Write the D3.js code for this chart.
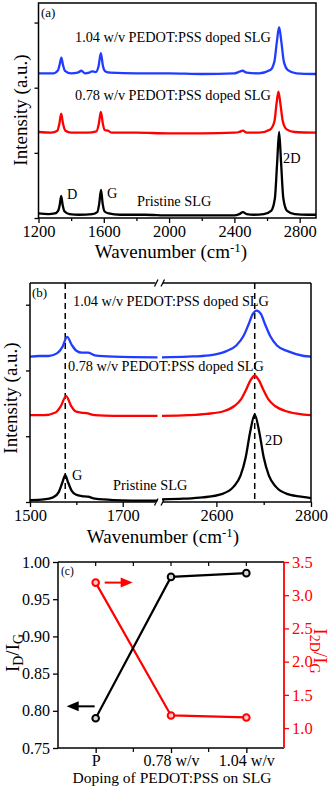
<!DOCTYPE html>
<html>
<head>
<meta charset="utf-8">
<script src="https://cdn.jsdelivr.net/npm/d3@7/dist/d3.min.js"></script>
<style>
  body { margin: 0; background: #fff; }
  svg { display: block; font-family: "Liberation Serif", "Times New Roman", serif; }
</style>
</head>
<body>
<div id="chart"></div>
<script>
// spectra read as [wavenumber, intensity (a.u.)], offsets included
var pristineA = [
  [1200, 0.07], [1260, 0.06], [1300, 0.07], [1320, 0.11], [1330, 0.2], [1339, 0.34],
  [1348, 0.2], [1360, 0.1], [1390, 0.06], [1450, 0.05], [1530, 0.06], [1560, 0.09],
  [1572, 0.22], [1583, 0.43], [1593, 0.22], [1605, 0.1], [1630, 0.07], [1700, 0.05],
  [1850, 0.05], [2000, 0.04], [2200, 0.04], [2400, 0.04], [2430, 0.06], [2452, 0.09],
  [2475, 0.06], [2520, 0.05], [2580, 0.06], [2625, 0.11], [2648, 0.3], [2662, 0.85],
  [2674, 1.32], [2686, 0.85], [2700, 0.3], [2723, 0.11], [2770, 0.06], [2850, 0.05],
  [2900, 0.05]
];
var doped078A = [
  [1200, 1.32], [1280, 1.31], [1315, 1.34], [1328, 1.45], [1339, 1.6], [1350, 1.45],
  [1365, 1.34], [1400, 1.31], [1500, 1.31], [1555, 1.33], [1570, 1.45], [1582, 1.63],
  [1594, 1.45], [1605, 1.35], [1625, 1.34], [1650, 1.31], [1800, 1.31], [2000, 1.3],
  [2200, 1.3], [2400, 1.31], [2430, 1.32], [2452, 1.34], [2475, 1.31], [2550, 1.31],
  [2620, 1.36], [2645, 1.48], [2658, 1.75], [2670, 1.94], [2682, 1.75], [2697, 1.48],
  [2720, 1.36], [2770, 1.32], [2900, 1.31]
];
var doped104A = [
  [1200, 2.22], [1290, 2.22], [1320, 2.27], [1330, 2.36], [1340, 2.46], [1350, 2.35],
  [1362, 2.26], [1400, 2.22], [1440, 2.23], [1462, 2.26], [1485, 2.22], [1510, 2.23],
  [1527, 2.25], [1550, 2.24], [1568, 2.33], [1582, 2.53], [1595, 2.33], [1610, 2.25],
  [1640, 2.23], [1800, 2.22], [2000, 2.22], [2200, 2.21], [2400, 2.22], [2425, 2.24],
  [2450, 2.26], [2475, 2.23], [2550, 2.22], [2620, 2.27], [2645, 2.4], [2660, 2.7],
  [2674, 2.93], [2688, 2.7], [2703, 2.4], [2728, 2.27], [2780, 2.22], [2900, 2.21]
];

// zoomed spectra, G region and 2D region
var pristineG = [
  [1500, 0.03], [1530, 0.04], [1550, 0.07], [1562, 0.15], [1570, 0.3], [1576, 0.41],
  [1582, 0.3], [1590, 0.17], [1600, 0.11], [1612, 0.09], [1625, 0.08], [1640, 0.05],
  [1680, 0.03], [1775, 0.02]
];
var pristine2D = [
  [2485, 0.04], [2530, 0.05], [2571, 0.07], [2611, 0.12], [2636, 0.23], [2651, 0.4],
  [2662, 0.68], [2671, 1.05], [2681, 1.33], [2691, 1.05], [2700, 0.68], [2711, 0.4],
  [2726, 0.23], [2751, 0.12], [2791, 0.07], [2800, 0.06]
];
var doped078G = [
  [1500, 1.32], [1530, 1.32], [1555, 1.36], [1566, 1.45], [1578, 1.61], [1588, 1.47],
  [1598, 1.38], [1610, 1.36], [1622, 1.35], [1640, 1.32], [1680, 1.31], [1775, 1.31]
];
var doped0782D = [
  [2485, 1.31], [2540, 1.32], [2580, 1.34], [2615, 1.38], [2638, 1.46], [2652, 1.56],
  [2663, 1.71], [2672, 1.85], [2681, 1.92], [2690, 1.85], [2699, 1.71], [2710, 1.56],
  [2724, 1.46], [2748, 1.38], [2785, 1.33], [2800, 1.32]
];
var doped104G = [
  [1500, 2.21], [1520, 2.22], [1540, 2.22], [1558, 2.26], [1570, 2.36], [1580, 2.51],
  [1590, 2.39], [1600, 2.3], [1612, 2.27], [1625, 2.27], [1640, 2.23], [1680, 2.21],
  [1775, 2.2]
];
var doped1042D = [
  [2485, 2.2], [2540, 2.21], [2585, 2.23], [2620, 2.29], [2642, 2.38], [2657, 2.52],
  [2668, 2.7], [2677, 2.86], [2685, 2.91], [2694, 2.86], [2703, 2.7], [2714, 2.52],
  [2728, 2.38], [2752, 2.29], [2785, 2.22], [2800, 2.21]
];

// peak ratios
var dopings = ["P", "0.78 w/v", "1.04 w/v"];
var ratioDG = [0.79, 0.98, 0.985];
var ratio2DG = [3.19, 1.19, 1.16];

var ticksA = [1200, 1600, 2000, 2400, 2800];
var minorA = [1400, 1800, 2200, 2600];
var ticksGLeft = [1500, 1700];
var ticks2DRight = [2600, 2800];
var ticksDG = [0.75, 0.8, 0.85, 0.9, 0.95, 1.0];
var ticks2DG = [1.0, 1.5, 2.0, 2.5, 3.0, 3.5];

var black = "#000", red = "#ff0000", blue = "#1f3cff";
var serif = "'Liberation Serif', 'Times New Roman', serif";

var svg = d3.select("#chart").append("svg")
  .attr("width", 331)
  .attr("height", 788);

function spectrum(g, data, x, y, color) {
  g.append("path")
    .datum(data)
    .attr("fill", "none")
    .attr("stroke", color)
    .attr("stroke-width", 2.3)
    .attr("stroke-linejoin", "round")
    .attr("d", d3.line()
      .x(function (d) { return x(d[0]); })
      .y(function (d) { return y(d[1]); })
      .curve(d3.curveMonotoneX));
}

function label(g, x, y, txt, size, color) {
  return g.append("text")
    .attr("x", x)
    .attr("y", y)
    .style("font-family", serif)
    .style("font-size", size + "px")
    .style("fill", color || black)
    .text(txt);
}

function styleAxis(sel, size) {
  sel.attr("font-family", null);
  sel.select(".domain").remove();
  sel.selectAll("line").attr("stroke-width", 1.3);
  sel.selectAll("text")
    .style("font-family", serif)
    .style("font-size", size + "px");
}

function wavenumberTitle(g, x, y) {
  var t = g.append("text")
    .attr("x", x)
    .attr("y", y)
    .attr("text-anchor", "middle")
    .style("font-family", serif)
    .style("font-size", "19px");
  t.append("tspan").text("Wavenumber (cm");
  t.append("tspan").attr("dy", -6).style("font-size", "13px").text("-1");
  t.append("tspan").attr("dy", 6).text(")");
}

function intensityTitle(g, x, y) {
  g.append("text")
    .attr("transform", "translate(" + x + "," + y + ")rotate(-90)")
    .attr("text-anchor", "middle")
    .style("font-family", serif)
    .style("font-size", "19px")
    .text("Intensity (a.u.)");
}

// ---------- (a) full spectra ----------
function panelA() {
  var g = svg.append("g");
  var x = d3.scaleLinear().domain([1200, 2900]).range([38.5, 316]);
  var y = d3.scaleLinear().domain([0, 3.3]).range([218, 3]);

  spectrum(g, pristineA, x, y, black);
  spectrum(g, doped078A, x, y, red);
  spectrum(g, doped104A, x, y, blue);

  g.append("rect")
    .attr("x", x(1200)).attr("y", y(3.3))
    .attr("width", x(2900) - x(1200)).attr("height", y(0) - y(3.3))
    .attr("fill", "none").attr("stroke", black).attr("stroke-width", 1.5);

  g.append("g")
    .attr("transform", "translate(0," + y(0) + ")")
    .call(d3.axisBottom(x).tickValues(ticksA).tickSize(5).tickPadding(2).tickSizeOuter(0).tickFormat(d3.format("d")))
    .call(styleAxis, 16.5);
  g.append("g")
    .attr("transform", "translate(0," + y(0) + ")")
    .call(d3.axisBottom(x).tickValues(minorA).tickSize(3).tickFormat(""))
    .call(styleAxis, 16);
  g.append("g")
    .attr("transform", "translate(" + x(1200) + ",0)")
    .call(d3.axisLeft(y).tickValues([0, 1, 2, 3]).tickSize(4).tickFormat(""))
    .call(styleAxis, 16);

  wavenumberTitle(g, 171, 258);
  intensityTitle(g, 27, 110);

  label(g, 41, 17, "(a)", 13);
  label(g, 75, 41.5, "1.04 w/v PEDOT:PSS doped SLG", 14.3);
  label(g, 75, 99.5, "0.78 w/v PEDOT:PSS doped SLG", 14.3);
  label(g, 137, 206, "Pristine SLG", 14.3);
  label(g, 67, 199, "D", 14.3);
  label(g, 107, 198, "G", 14.3);
  label(g, 283, 163, "2D", 14.3);
}

// ---------- (b) G and 2D bands with axis break ----------
function panelB() {
  var g = svg.append("g");
  var xl = d3.scaleLinear().domain([1500, 1775]).range([30, 157.5]);
  var xr = d3.scaleLinear().domain([2485, 2800]).range([162, 311]);
  var y = d3.scaleLinear().domain([0, 3.33]).range([502, 283]);
  var top = y(3.33), bot = y(0);

  // dashed guides at the pristine peak positions
  [xl(1576), xr(2681)].forEach(function (px) {
    g.append("line")
      .attr("x1", px).attr("x2", px).attr("y1", top).attr("y2", bot)
      .attr("stroke", black).attr("stroke-width", 1.5)
      .attr("stroke-dasharray", "6,4");
  });

  [[pristineG, pristine2D, black], [doped078G, doped0782D, red], [doped104G, doped1042D, blue]]
    .forEach(function (s) {
      spectrum(g, s[0], xl, y, s[2]);
      spectrum(g, s[1], xr, y, s[2]);
    });

  // frame, split at the break
  var frame = [
    [xl(1500), top, xl(1500), bot], [xr(2800), top, xr(2800), bot],
    [xl(1500), top, xl(1775) - 2, top], [xr(2485) + 1, top, xr(2800), top],
    [xl(1500), bot, xl(1775) - 2, bot], [xr(2485) + 1, bot, xr(2800), bot]
  ];
  frame.forEach(function (f) {
    g.append("line")
      .attr("x1", f[0]).attr("y1", f[1]).attr("x2", f[2]).attr("y2", f[3])
      .attr("stroke", black).attr("stroke-width", 1.5);
  });
  [top, bot].forEach(function (yy) {
    [xl(1775) - 3, xr(2485) - 1].forEach(function (bx) {
      g.append("line")
        .attr("x1", bx).attr("y1", yy + 3.5).attr("x2", bx + 3.5).attr("y2", yy - 3.5)
        .attr("stroke", black).attr("stroke-width", 1.3);
    });
  });

  g.append("g")
    .attr("transform", "translate(0," + bot + ")")
    .call(d3.axisBottom(xl).tickValues(ticksGLeft).tickSize(5).tickPadding(2).tickSizeOuter(0).tickFormat(d3.format("d")))
    .call(styleAxis, 16.5);
  g.append("g")
    .attr("transform", "translate(0," + bot + ")")
    .call(d3.axisBottom(xr).tickValues(ticks2DRight).tickSize(5).tickPadding(2).tickSizeOuter(0).tickFormat(d3.format("d")))
    .call(styleAxis, 16.5);
  g.append("g")
    .attr("transform", "translate(0," + bot + ")")
    .call(d3.axisBottom(xl).tickValues([1600]).tickSize(3).tickFormat(""))
    .call(styleAxis, 16);
  g.append("g")
    .attr("transform", "translate(0," + bot + ")")
    .call(d3.axisBottom(xr).tickValues([2700]).tickSize(3).tickFormat(""))
    .call(styleAxis, 16);
  g.append("g")
    .attr("transform", "translate(" + xl(1500) + ",0)")
    .call(d3.axisLeft(y).tickValues([0, 1, 2, 3]).tickSize(4).tickFormat(""))
    .call(styleAxis, 16);

  wavenumberTitle(g, 163, 543);
  intensityTitle(g, 17, 398);

  label(g, 32, 297, "(b)", 13);
  label(g, 73, 306, "1.04 w/v PEDOT:PSS doped SLG", 14.3);
  label(g, 68, 371, "0.78 w/v PEDOT:PSS doped SLG", 14.3);
  label(g, 113, 490, "Pristine SLG", 14.3);
  label(g, 72, 480, "G", 14.3);
  label(g, 265, 445, "2D", 14.3);
}

// ---------- (c) ID/IG and I2D/IG against doping ----------
function panelC() {
  var g = svg.append("g");
  var x = d3.scalePoint().domain(dopings).range([58, 284]).padding(0.5);
  var yl = d3.scaleLinear().domain([0.75, 1.0]).range([748, 562]);
  var yr = d3.scaleLinear().domain([0.7, 3.5]).range([748, 562]);
  var step = x.step();
  var mids = [x(dopings[0]) + step / 2, x(dopings[1]) + step / 2];

  // frame: top, bottom and left black, right red
  g.append("line").attr("x1", 58).attr("x2", 284).attr("y1", 562).attr("y2", 562)
    .attr("stroke", black).attr("stroke-width", 1.5);
  g.append("line").attr("x1", 58).attr("x2", 284).attr("y1", 748).attr("y2", 748)
    .attr("stroke", black).attr("stroke-width", 1.5);
  g.append("line").attr("x1", 58).attr("x2", 58).attr("y1", 562).attr("y2", 748)
    .attr("stroke", black).attr("stroke-width", 1.5);
  g.append("line").attr("x1", 284).attr("x2", 284).attr("y1", 562).attr("y2", 748)
    .attr("stroke", red).attr("stroke-width", 1.8);

  dopings.map(function (d) { return x(d); }).concat(mids).forEach(function (px) {
    g.append("line").attr("x1", px).attr("x2", px).attr("y1", 562).attr("y2", 566)
      .attr("stroke", black).attr("stroke-width", 1.2);
  });

  g.append("g")
    .attr("transform", "translate(0,748)")
    .call(d3.axisBottom(x).tickSize(5).tickPadding(2).tickSizeOuter(0))
    .call(styleAxis, 16);
  mids.forEach(function (px) {
    g.append("line").attr("x1", px).attr("x2", px).attr("y1", 748).attr("y2", 752)
      .attr("stroke", black).attr("stroke-width", 1.2);
  });
  g.append("g")
    .attr("transform", "translate(58,0)")
    .call(d3.axisLeft(yl).tickValues(ticksDG).tickSize(5).tickFormat(d3.format(".2f")))
    .call(styleAxis, 16);
  var right = g.append("g")
    .attr("transform", "translate(284,0)")
    .call(d3.axisRight(yr).tickValues(ticks2DG).tickSize(5).tickFormat(d3.format(".1f")))
    .call(styleAxis, 16.5);
  right.selectAll("line").attr("stroke", red);
  right.selectAll("text").style("fill", red);

  var lineDG = d3.line()
    .x(function (d, i) { return x(dopings[i]); })
    .y(function (d) { return yl(d); });
  var line2DG = d3.line()
    .x(function (d, i) { return x(dopings[i]); })
    .y(function (d) { return yr(d); });

  g.append("path").datum(ratio2DG)
    .attr("fill", "none").attr("stroke", red).attr("stroke-width", 2.2).attr("d", line2DG);
  g.append("path").datum(ratioDG)
    .attr("fill", "none").attr("stroke", black).attr("stroke-width", 2.2).attr("d", lineDG);

  g.selectAll("circle.r2dg").data(ratio2DG).enter().append("circle")
    .attr("class", "r2dg")
    .attr("cx", function (d, i) { return x(dopings[i]); })
    .attr("cy", function (d) { return yr(d); })
    .attr("r", 3.3)
    .attr("fill", "#ffc8c8").attr("stroke", red).attr("stroke-width", 2);
  g.selectAll("circle.rdg").data(ratioDG).enter().append("circle")
    .attr("class", "rdg")
    .attr("cx", function (d, i) { return x(dopings[i]); })
    .attr("cy", function (d) { return yl(d); })
    .attr("r", 3.3)
    .attr("fill", "#d8d8d8").attr("stroke", black).attr("stroke-width", 2);

  // arrows pointing to the axis each series belongs to
  var ay = yr(ratio2DG[0]);
  g.append("line").attr("x1", x("P") + 9).attr("x2", x("P") + 27).attr("y1", ay).attr("y2", ay)
    .attr("stroke", red).attr("stroke-width", 2);
  g.append("path")
    .attr("d", "M" + (x("P") + 37) + "," + ay + "L" + (x("P") + 25) + "," + (ay - 5) + "L" + (x("P") + 25) + "," + (ay + 5) + "Z")
    .attr("fill", red);
  var by = yl(0.806);
  g.append("line").attr("x1", x("P") - 1).attr("x2", x("P") - 19).attr("y1", by).attr("y2", by)
    .attr("stroke", black).attr("stroke-width", 2);
  g.append("path")
    .attr("d", "M" + (x("P") - 29) + "," + by + "L" + (x("P") - 17) + "," + (by - 5) + "L" + (x("P") - 17) + "," + (by + 5) + "Z")
    .attr("fill", black);

  label(g, 61, 575, "(c)", 11.5);
  g.append("text")
    .attr("x", 172).attr("y", 783)
    .attr("text-anchor", "middle")
    .style("font-family", serif)
    .style("font-size", "15.5px")
    .text("Doping of PEDOT:PSS on SLG");

  var lt = g.append("text")
    .attr("transform", "translate(19,653)rotate(-90)")
    .attr("text-anchor", "middle")
    .style("font-family", serif)
    .style("font-size", "19px");
  lt.append("tspan").text("I");
  lt.append("tspan").attr("dy", 4).style("font-size", "14px").text("D");
  lt.append("tspan").attr("dy", -4).text("/I");
  lt.append("tspan").attr("dy", 4).style("font-size", "14px").text("G");

  var rt = g.append("text")
    .attr("transform", "translate(314,651)rotate(90)")
    .attr("text-anchor", "middle")
    .style("font-family", serif)
    .style("font-size", "19px")
    .style("fill", red);
  rt.append("tspan").text("I");
  rt.append("tspan").attr("dy", 4).style("font-size", "14px").text("2D");
  rt.append("tspan").attr("dy", -4).text("/I");
  rt.append("tspan").attr("dy", 4).style("font-size", "14px").text("G");
}

panelA();
panelB();
panelC();
</script>
</body>
</html>
